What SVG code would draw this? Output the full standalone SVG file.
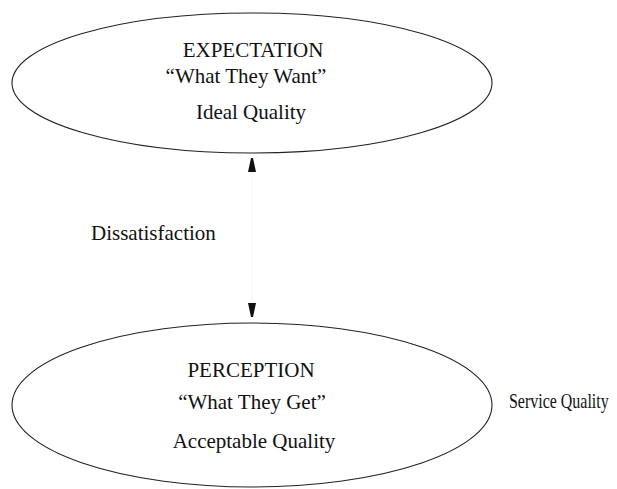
<svg xmlns="http://www.w3.org/2000/svg" width="617" height="489" viewBox="0 0 617 489">
  <style>
    .node { fill: #fff; stroke: #222; stroke-width: 1.1; }
    .lbl { font-family: "Liberation Serif", "Times New Roman", serif; font-size: 21px; fill: #111; text-anchor: middle; }
    .side { font-family: "Liberation Serif", "Times New Roman", serif; font-size: 21px; fill: #111; }
    .link { stroke: #000; stroke-opacity: 0.06; stroke-width: 0.6; fill: none; }
  </style>
  <defs>
    <marker id="head" viewBox="0 0 14 9" refX="14" refY="4.5" markerWidth="14" markerHeight="9" markerUnits="userSpaceOnUse" orient="auto">
      <path d="M0,0.5 L14,3.5 L14,5.5 L0,8.5 Z" fill="#111"/>
    </marker>
  </defs>

  <rect width="617" height="489" fill="#fff"/>

  <!-- connector between the two ellipses -->
  <g id="connectors">
    <path class="link" d="M252,237 L252,158" marker-end="url(#head)"/>
    <path class="link" d="M252,237 L252,317" marker-end="url(#head)"/>
  </g>

  <g id="expectation">
    <ellipse class="node" cx="252" cy="83" rx="240" ry="70"/>
    <text class="lbl" x="253" y="57">EXPECTATION</text>
    <text class="lbl" x="246" y="83">“What They Want”</text>
    <text class="lbl" x="251" y="119">Ideal Quality</text>
  </g>

  <g id="gap-label">
    <text class="side" x="91" y="240">Dissatisfaction</text>
  </g>

  <g id="perception">
    <ellipse class="node" cx="252" cy="405" rx="240" ry="82"/>
    <text class="lbl" x="251" y="377">PERCEPTION</text>
    <text class="lbl" x="252" y="409">“What They Get”</text>
    <text class="lbl" x="254" y="448">Acceptable Quality</text>
  </g>

  <!-- narrow label squeezed in beside the lower ellipse -->
  <g id="service-label" transform="translate(509,408) scale(0.76,1)">
    <text class="side" x="0" y="0">Service Quality</text>
  </g>
</svg>
